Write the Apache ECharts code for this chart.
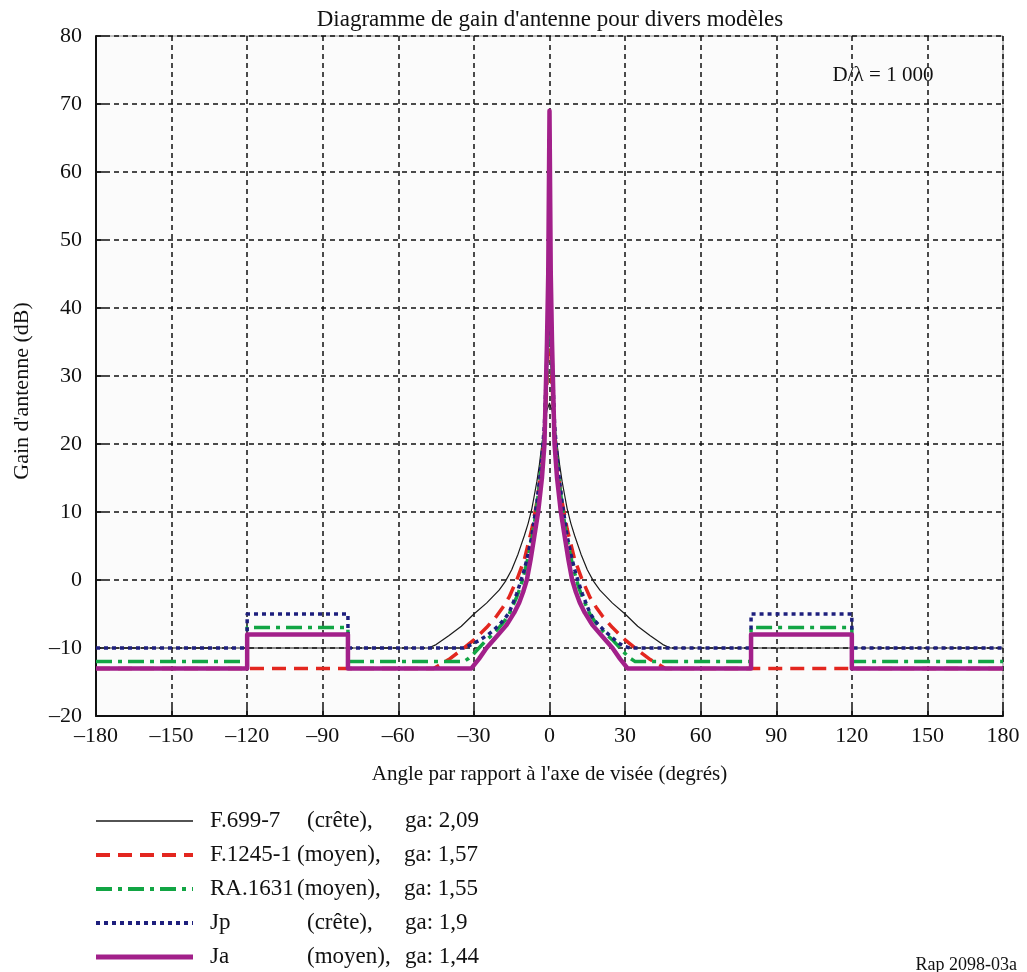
<!DOCTYPE html>
<html>
<head>
<meta charset="utf-8">
<script src="https://cdn.jsdelivr.net/npm/echarts@6/dist/echarts.min.js"></script>
<style>
html,body{margin:0;padding:0;background:#fff;}
#chart{width:1027px;height:972px;}
</style>
</head>
<body>
<div id="chart"></div>
<script>
// ---- Data ----
var xTicks = [-180,-150,-120,-90,-60,-30,0,30,60,90,120,150,180];
var yTicks = [-20,-10,0,10,20,30,40,50,60,70,80];

var seriesNames = ['F.699-7','F.1245-1','RA.1631','Jp','Ja'];
var seriesKinds = ['(crête),','(moyen),','(moyen),','(crête),','(moyen),'];
var seriesGa = ['2,09','1,57','1,55','1,9','1,44'];

var f699Angles = [-180,-48,-45,-40,-35,-30,-25,-20,-17.5,-15,-12.5,-10,-8.5,-7,-6,-5,-4,-3,-2,-1,0,1,2,3,4,5,6,7,8.5,10,12.5,15,17.5,20,25,30,35,40,45,48,180];
var f699Gain   = [-10,-10,-9.5,-8.2,-6.8,-5,-3.4,-1.5,-0.2,1.5,3.8,6.5,8.3,10.5,12.5,14.5,17,20,22.5,25,26,25,22.5,20,17,14.5,12.5,10.5,8.3,6.5,3.8,1.5,-0.2,-1.5,-3.4,-5,-6.8,-8.2,-9.5,-10,-10];

var f1245Angles = [-180,-46,-40,-35,-30,-25,-21,-18.5,-16,-13,-10,-7,-5,-4,-3,-2,-1,-0.5,0,0.5,1,2,3,4,5,7,10,13,16,18.5,21,25,30,35,40,46,180];
var f1245Gain   = [-13,-13,-11.7,-10.3,-8.8,-7,-5.3,-4,-2.5,0,3,7.5,11.5,14,17,21.5,29,37,39.5,37,29,21.5,17,14,11.5,7.5,3,0,-2.5,-4,-5.3,-7,-8.8,-10.3,-11.7,-13,-13];

var ra1631Angles = [-180,-120,-120,-80,-80,-34,-32,-30,-28,-25,-22.5,-20,-18,-16,-13,-11.5,-10,-8.5,-7,-6,-5,-4,-3,-2,-1,-0.5,0,0.5,1,2,3,4,5,6,7,8.5,10,11.5,13,16,18,20,22.5,25,28,30,32,34,80,80,120,120,180];
var ra1631Gain   = [-12,-12,-7,-7,-12,-12,-11.5,-10.8,-10,-8.8,-8,-7,-6.1,-5,-2.5,-1,1,3.3,6,8.3,11,14,17.5,22,31,38,40,38,31,22,17.5,14,11,8.3,6,3.3,1,-1,-2.5,-5,-6.1,-7,-8,-8.8,-10,-10.8,-11.5,-12,-12,-7,-7,-12,-12];

var jpAngles = [-180,-120,-120,-80,-80,-34,-31,-28,-25,-22.5,-20,-18,-16,-13,-11.5,-10,-8.5,-7,-6,-5,-4,-3,-2,-1,-0.5,0,0.5,1,2,3,4,5,6,7,8.5,10,11.5,13,16,18,20,22.5,25,27.5,30,32,80,80,120,120,180];
var jpGain   = [-10,-10,-5,-5,-10,-10,-9.5,-8.9,-8.2,-7.5,-6.6,-5.8,-4.8,-2,-0.3,1.5,3.8,6.5,9,11.5,14.5,18,23,33,39,41,39,33,23,18,14.5,11.5,9,6.5,3.8,1.5,-0.3,-2,-4.8,-6,-6.8,-7.7,-8.5,-9.3,-9.8,-10,-10,-5,-5,-10,-10];

var jaAngles = [-180,-120,-120,-80,-80,-31,-28,-25,-21,-17,-14,-12,-10.5,-9,-7.5,-6,-4.5,-3,-2,-1,-0.5,0,0.5,1,2,3,4.5,6,7.5,9,10.5,12,14,17,21,25,28,31,80,80,120,120,180];
var jaGain   = [-13,-13,-8,-8,-13,-13,-11.6,-10,-8.3,-6.6,-4.8,-3.3,-1.8,0,3,6.5,10,15,20,35,45,69,45,35,20,15,10,6.5,3,0,-1.8,-3.3,-4.8,-6.6,-8.3,-10,-11.6,-13,-13,-8,-8,-13,-13];

// ---- Build ----
function pairs(a, g){ var out=[]; for (var i=0;i<a.length;i++) out.push([a[i], g[i]]); return out; }
function minus(v){ return String(v).replace('-', '\u2013'); }

var FONT = '"Liberation Serif", "Times New Roman", serif';
var chart = echarts.init(document.getElementById('chart'), null, {renderer:'canvas'});

var styles = [
  {color:'#1a1a1a', width:1.2, legendWidth:1.6, dash:null},
  {color:'#e3261f', width:3.5, legendWidth:4, dash:[14,8]},
  {color:'#12a544', width:3.5, legendWidth:4, dash:[16,6,4,6]},
  {color:'#1e1f7d', width:3.5, legendWidth:4, dash:[4,4]},
  {color:'#a2208a', width:4.5, legendWidth:5, dash:null}
];
var longNameStyle = [false,true,true,false,false];
var dataSets = [pairs(f699Angles,f699Gain), pairs(f1245Angles,f1245Gain), pairs(ra1631Angles,ra1631Gain), pairs(jpAngles,jpGain), pairs(jaAngles,jaGain)];

var series = seriesNames.map(function(n, i){
  return {
    name: n, type:'line', data: dataSets[i], showSymbol:false, symbol:'none',
    lineStyle: {color: styles[i].color, width: styles[i].width, type: styles[i].dash || 'solid', cap:'butt', join:'round'},
    itemStyle: {color: styles[i].color},
    animation:false, z: 2 + i
  };
});

// Legend drawn as graphic rows (icon line + text)
var LEG_TOP = 821, LEG_STEP = 34;
var legendGraphics = [];
seriesNames.forEach(function(n, i){
  var cy = LEG_TOP + i * LEG_STEP;
  var ls = {stroke: styles[i].color, lineWidth: styles[i].legendWidth, lineCap:'butt'};
  if (styles[i].dash) ls.lineDash = styles[i].dash;
  legendGraphics.push({type:'line', shape:{x1:96, y1:cy, x2:193, y2:cy}, style: ls, silent:true});
  var long = longNameStyle[i];
  legendGraphics.push({type:'text', x:210, y:cy, silent:true,
    style:{
      text: '{' + (long?'aL':'aS') + '|' + n + '}{' + (long?'bL':'bS') + '|' + seriesKinds[i] + '}{c|ga: ' + seriesGa[i] + '}',
      fontFamily:FONT, fontSize:23, fill:'#111', verticalAlign:'middle', align:'left',
      rich:{
        aS:{fontFamily:FONT, fontSize:23, width:97, fill:'#111'},
        aL:{fontFamily:FONT, fontSize:23, width:87, fill:'#111'},
        bS:{fontFamily:FONT, fontSize:23, width:98, fill:'#111'},
        bL:{fontFamily:FONT, fontSize:23, width:107, fill:'#111'},
        c:{fontFamily:FONT, fontSize:23, fill:'#111'}
      }
    }});
});

var option = {
  backgroundColor:'#ffffff',
  animation:false,
  title: [
    {text:"Diagramme de gain d'antenne pour divers modèles", left:545, top:3, textAlign:'center',
     textStyle:{fontFamily:FONT, fontSize:23, fontWeight:'normal', color:'#111'}},
    {text:'D/\u03bb = 1 000', left:878, top:60, textAlign:'center',
     textStyle:{fontFamily:FONT, fontSize:21, fontWeight:'normal', color:'#111'}},
    {text:'Rap 2098-03a', right:5, top:951,
     textStyle:{fontFamily:FONT, fontSize:18, fontWeight:'normal', color:'#111'}}
  ],
  graphic: [
    {type:'text', x:22, y:391, rotation:Math.PI/2, silent:true,
     style:{text:"Gain d'antenne (dB)", fontFamily:FONT, fontSize:22, fill:'#111', align:'center', verticalAlign:'middle'}}
  ].concat(legendGraphics),
  grid: {left:96, right:24, top:36, bottom:256, show:true, backgroundColor:'#fbfbfb', borderColor:'#888', borderWidth:1},
  xAxis: {
    type:'value', min:-180, max:180, interval:30,
    name:"Angle par rapport à l'axe de visée (degrés)", nameLocation:'middle', nameGap:48,
    nameTextStyle:{fontFamily:FONT, fontSize:21, color:'#111'},
    axisLine:{show:true, onZero:false, lineStyle:{color:'#111', width:2}},
    axisTick:{show:true, inside:true, length:9, lineStyle:{color:'#111', width:1.5}},
    axisLabel:{fontFamily:FONT, fontSize:22, color:'#111', margin:9, formatter:function(v){return minus(v);}},
    splitLine:{show:true, lineStyle:{color:'#111', width:1.5, type:[5,4]}}
  },
  yAxis: {
    type:'value', min:-20, max:80, interval:10,
    axisLine:{show:true, onZero:false, lineStyle:{color:'#111', width:2}},
    axisTick:{show:true, inside:true, length:9, lineStyle:{color:'#111', width:1.5}},
    axisLabel:{fontFamily:FONT, fontSize:22, color:'#111', margin:14, formatter:function(v){return minus(v);}},
    splitLine:{show:true, lineStyle:{color:'#111', width:1.5, type:[5,4]}}
  },
  series: series
};
chart.setOption(option);
</script>
</body>
</html>
